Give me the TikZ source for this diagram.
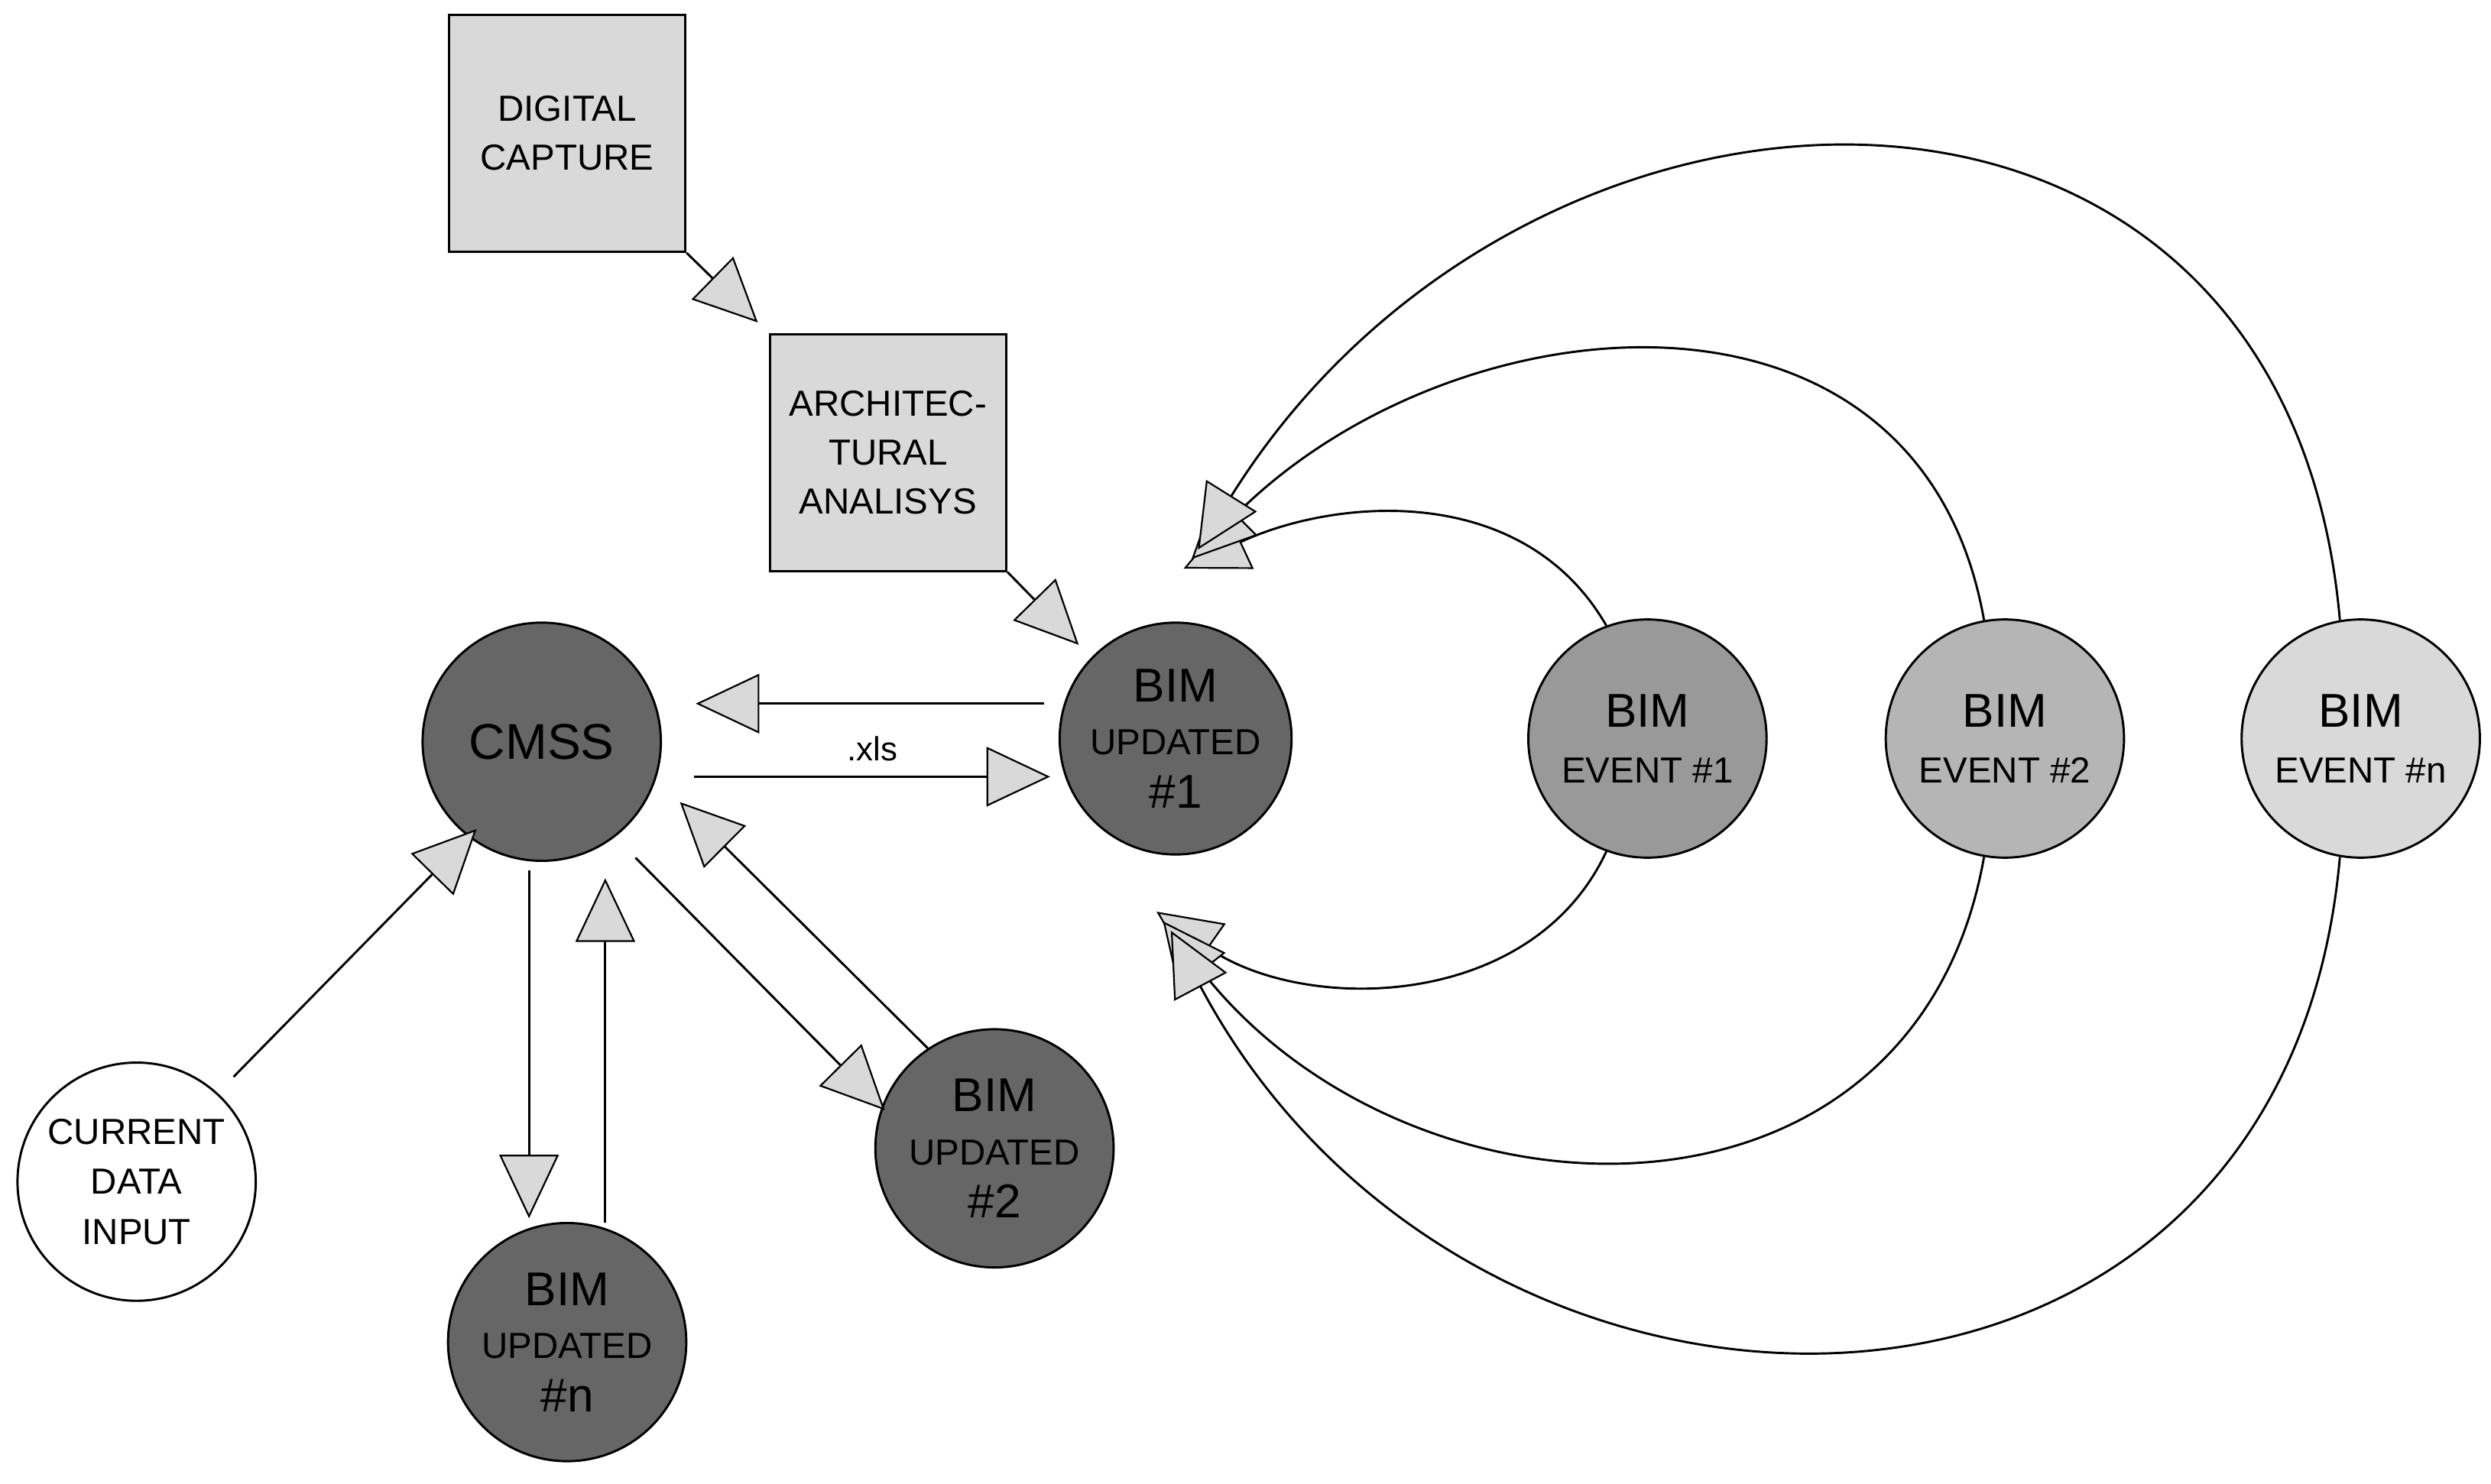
\documentclass[tikz,border=0pt]{standalone}
\usepackage{fontspec}
\setmainfont{Liberation Sans}
\usetikzlibrary{arrows.meta}
\definecolor{dk}{HTML}{666666}
\definecolor{e1}{HTML}{999999}
\definecolor{e2}{HTML}{B5B5B5}
\definecolor{en}{HTML}{D9D9D9}
\definecolor{bx}{HTML}{D9D9D9}
\newcommand{\bg}[1]{{\fontsize{17}{19}\selectfont #1}}
\begin{document}
\begin{tikzpicture}[x=0.02cm,y=-0.02cm,
  circ/.style={circle,draw=black,line width=0.8pt,minimum size=3cm,inner sep=0pt,align=center,font=\fontsize{13}{19}\selectfont},
  box/.style={rectangle,draw=black,line width=0.8pt,fill=bx,minimum width=2.98cm,minimum height=2.98cm,align=center,font=\fontsize{13}{17.5}\selectfont},
  arr/.style={line width=0.8pt,-{Triangle[length=0.8cm,width=0.75cm,fill=en,line width=0.6pt]}}]
\useasboundingbox (0,0) rectangle (1568,934);
\node[box] (dc) at (357,84) {DIGITAL\\CAPTURE};
\node[box] (ar) at (559,285) {ARCHITEC-\\TURAL\\ANALISYS};
\node[circ,fill=dk] (cm) at (341,467) {\fontsize{18}{20}\selectfont CMSS};
\node[circ,fill=dk,minimum size=2.92cm] (b1) at (740,465) {\bg{BIM}\\UPDATED\\\bg{\#1}};
\node[circ,fill=e1,font=\fontsize{13}{20}\selectfont] (e1) at (1037,465) {\bg{BIM}\\EVENT \#1};
\node[circ,fill=e2,font=\fontsize{13}{20}\selectfont] (e2) at (1262,465) {\bg{BIM}\\EVENT \#2};
\node[circ,fill=en,font=\fontsize{13}{20}\selectfont] (en) at (1486,465) {\bg{BIM}\\EVENT \#n};
\node[circ,fill=white,font=\fontsize{13}{18}\selectfont] (cd) at (86,744) {CURRENT\\DATA\\INPUT};
\node[circ,fill=dk] (bn) at (357,845) {\bg{BIM}\\UPDATED\\\bg{\#n}};
\node[circ,fill=dk] (b2) at (626,723) {\bg{BIM}\\UPDATED\\\bg{\#2}};
\coordinate (t1) at (477,203);
\coordinate (t2) at (679,406);
\draw[arr] (dc.south east) -- (t1);
\draw[arr] (ar.south east) -- (t2);
\coordinate (s3) at (657,443); \coordinate (t3) at (438,443);
\draw[arr] (s3) -- (t3);
\coordinate (s4) at (437,489); \coordinate (t4) at (661,489);
\draw[arr] (s4) -- node[above=2pt,font=\fontsize{12}{14}\selectfont]{.xls} (t4);
\coordinate (s5) at (147,678); \coordinate (t5) at (300,522);
\draw[arr] (s5) -- (t5);
\coordinate (s6) at (333,548); \coordinate (t6) at (333,767);
\draw[arr] (s6) -- (t6);
\coordinate (s7) at (381,770); \coordinate (t7) at (381,553);
\draw[arr] (s7) -- (t7);
\coordinate (s8) at (400,540); \coordinate (t8) at (557,699);
\draw[arr] (s8) -- (t8);
\coordinate (s9) at (584,660); \coordinate (t9) at (428,505);
\draw[arr] (s9) -- (t9);
\coordinate (u1) at (745,358); \coordinate (u2) at (750,352); \coordinate (u3) at (754,346);
\coordinate (l1) at (728,574); \coordinate (l2) at (732,580); \coordinate (l3) at (737,586);
\draw[arr] (e1.110) to[out=120,in=25] (u1);
\draw[arr] (e2.100) to[out=100,in=45,looseness=1.2] (u2);
\draw[arr] (en.100) to[out=95,in=58,looseness=1.4] (u3);
\draw[arr] (e1.-110) to[out=-115,in=-35] (l1);
\draw[arr] (e2.-100) to[out=-100,in=-52,looseness=1.25] (l2);
\draw[arr] (en.-100) to[out=-95,in=-62,looseness=1.4] (l3);
\end{tikzpicture}
\end{document}
